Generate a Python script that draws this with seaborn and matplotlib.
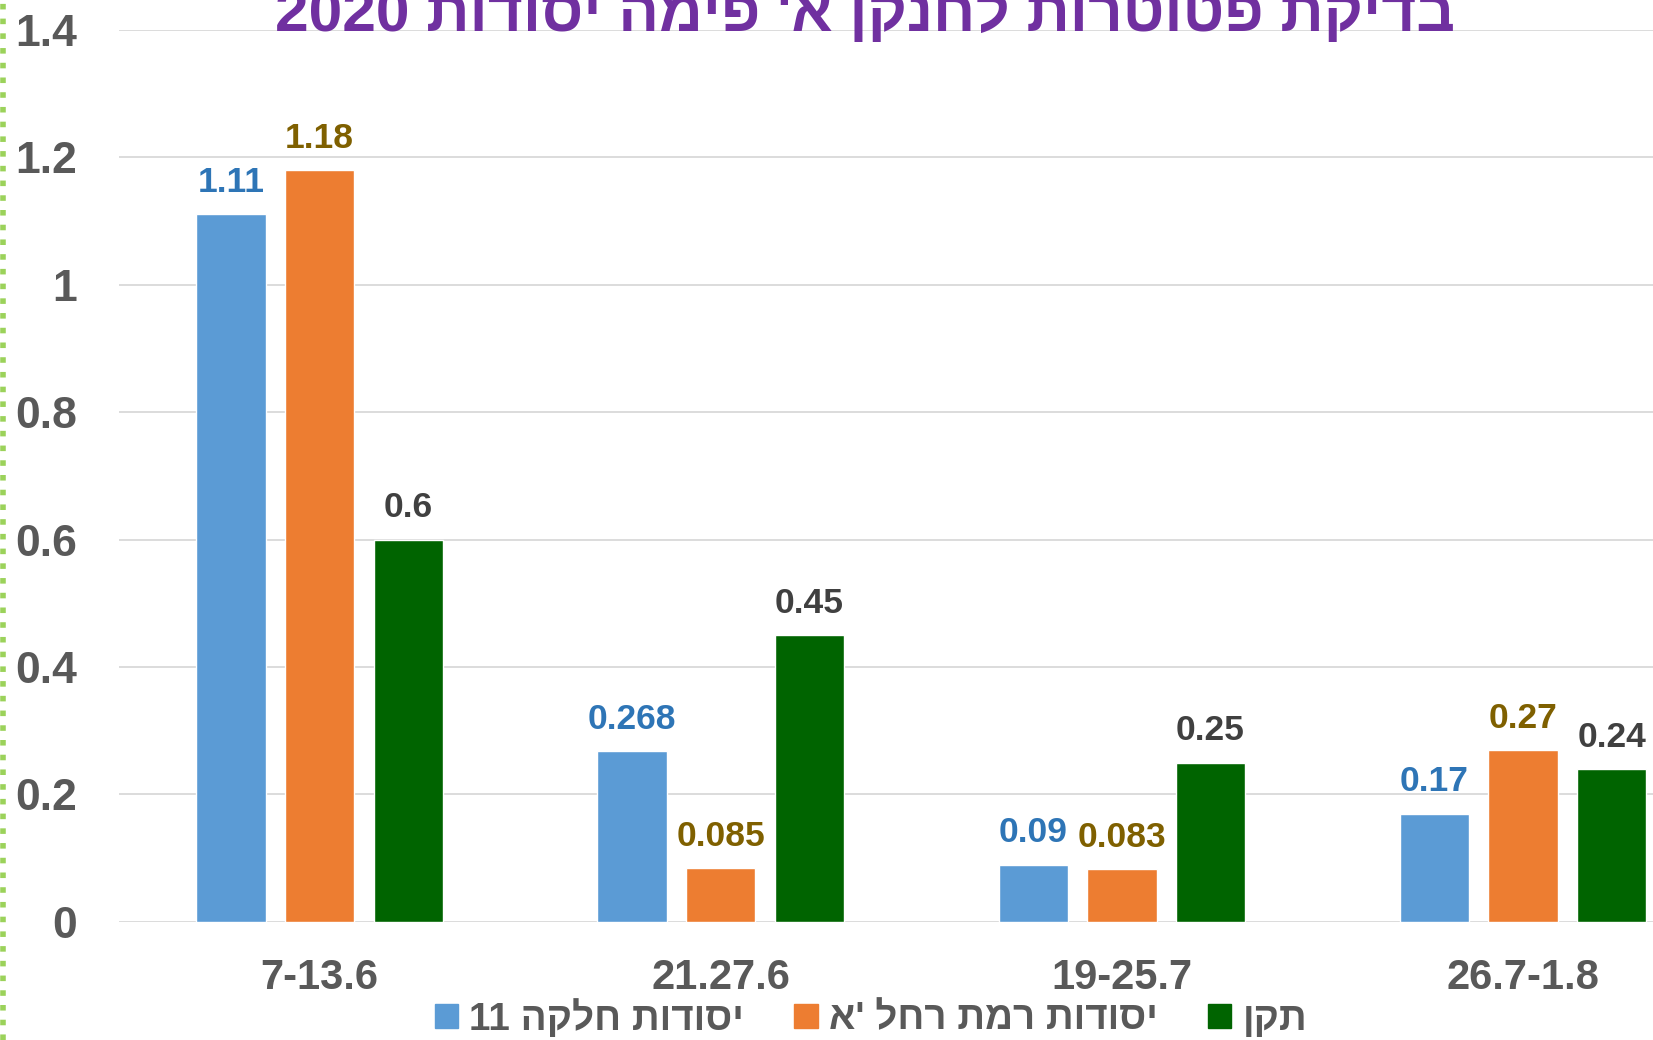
import re
import numpy as np
import pandas as pd
import matplotlib
matplotlib.use('Agg')
import matplotlib.pyplot as plt
from matplotlib.patches import Patch
from matplotlib.lines import Line2D
import seaborn as sns

# data
periods = ['7-13.6', '21.27.6', '19-25.7', '26.7-1.8']
series_names = ['יסודות חלקה 11', "יסודות רמת רחל 'א", 'תקן']
hilka11 = [1.11, 0.268, 0.09, 0.17]
ramat_rachel = [1.18, 0.085, 0.083, 0.27]
standard = [0.6, 0.45, 0.25, 0.24]
title = "בדיקת פטוטרות לחנקן א' פימה יסודות 2020"

bar_colors = ['#5B9BD5', '#ED7D31', '#006400']
label_colors = ['#2E75B6', '#7F6000', '#404040']


def rtl(s):
    # matplotlib has no bidi, so flip the hebrew and keep numbers readable
    return re.sub(r'\d+', lambda m: m.group()[::-1], s[::-1])


df = pd.DataFrame({
    'period': periods * 3,
    'series': [rtl(n) for n in series_names for _ in periods],
    'value': hilka11 + ramat_rachel + standard,
})

sns.set_style('white')
plt.rcParams['font.family'] = ['Liberation Sans', 'DejaVu Sans']

fig = plt.figure(figsize=(16.53, 10.4), dpi=100)
ax = fig.add_axes([0.072, 0.1135, 0.9707, 0.858])
sns.barplot(data=df, x='period', y='value', hue='series', palette=bar_colors,
            width=0.663, gap=0.217, ax=ax, legend=False, saturation=1)
for cont, c in zip(ax.containers, label_colors):
    ax.bar_label(cont, fmt='%g', padding=11, color=c, fontsize=25.5, fontweight='bold')

ax.set_ylim(0, 1.4)
ax.set_xlim(-0.5, 3.5)
yt = np.round(np.arange(0, 1.41, 0.2), 1)
ax.set_yticks(yt)
ax.set_yticklabels(['%g' % v for v in yt])
ax.grid(axis='y', color='#D9D9D9', lw=1.3)
ax.set_axisbelow(True)
for s in ax.spines.values():
    s.set_visible(False)
ax.tick_params(axis='y', length=0, pad=30, labelsize=32, labelcolor='#595959')
ax.tick_params(axis='x', length=0, pad=26, labelsize=30, labelcolor='#595959')
for t in ax.get_xticklabels() + ax.get_yticklabels():
    t.set_fontweight('bold')
ax.set_xlabel('')
ax.set_ylabel('')

handles = [Patch(color=c, label=rtl(n)) for c, n in zip(bar_colors, series_names)]
fig.legend(handles=handles, ncol=3, loc='center', bbox_to_anchor=(0.527, 0.021),
           frameon=False, prop={'size': 27.8, 'weight': 'bold'},
           handlelength=0.6, handleheight=0.6, handletextpad=0.3,
           columnspacing=1.3, labelcolor='#595959')

fig.text(0.523, 0.97, rtl(title), ha='center', va='baseline', fontsize=43.5,
         color='#7030A0', fontweight='bold')

# green dotted frame edge on the left
fig.add_artist(Line2D([0.002, 0.002], [0, 1], color='#9BD25A', lw=4, ls=':'))

fig.savefig('out.png', dpi=100)
